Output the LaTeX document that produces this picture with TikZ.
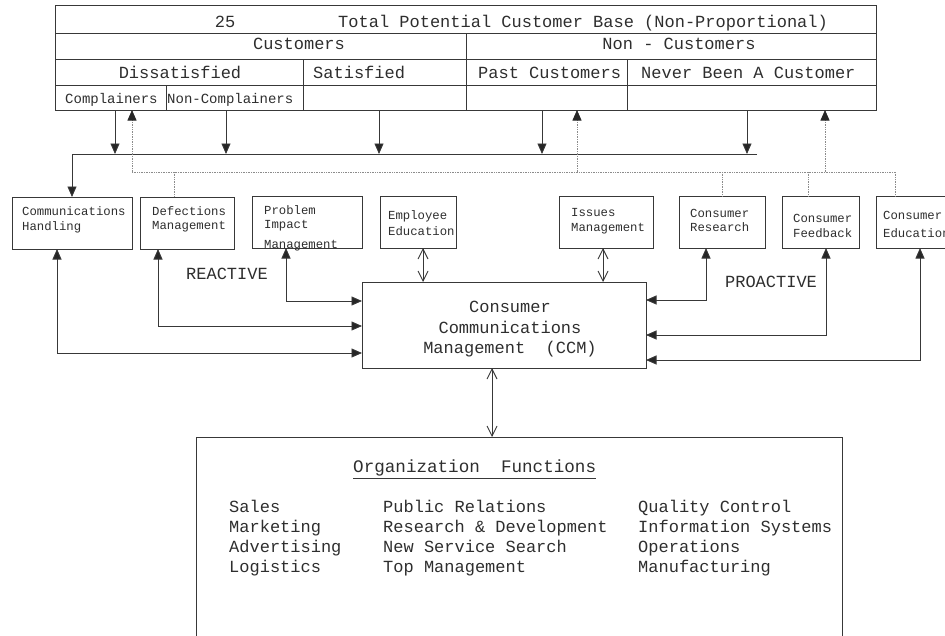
\documentclass[tikz,border=0pt]{standalone}
\usepackage{fontspec}
\newfontfamily\mono{Liberation Mono}
\usetikzlibrary{arrows.meta,calc}
\begin{document}
\begin{tikzpicture}[x=1pt,y=-1pt,
  ln/.style={draw=black!78,line width=0.9pt},
  bx/.style={ln,anchor=north west,inner sep=0pt,outer sep=0pt},
  txt/.style={inner sep=0pt,text=black!82},
  fA/.style={txt,font=\mono\fontsize{17}{20}\selectfont},
  fB/.style={txt,font=\mono\fontsize{14}{16}\selectfont},
  fC/.style={txt,font=\mono\fontsize{12.3}{14}\selectfont},
  arr/.style={ln,-{Triangle[length=10.5pt,width=9pt,fill=black!85]}},
  dbl/.style={ln,{Triangle[length=10.5pt,width=9pt,fill=black!85]}-{Triangle[length=10.5pt,width=9pt,fill=black!85]}},
  opn/.style={ln,{Straight Barb[length=10pt,width=10pt]}-{Straight Barb[length=10pt,width=10pt]}},
  dot/.style={draw=black!45,line width=0.7pt,densely dotted},
  dotarr/.style={dot,-{Triangle[length=10.5pt,width=9pt,color=black!85]}}
]
\useasboundingbox (0,0) rectangle (945,635);

% ---------- top table ----------
\node[bx,minimum width=821,minimum height=28] (t0) at (55,5) {};
\node[bx,minimum width=411,minimum height=26] (cu) at (55,33) {};
\node[bx,minimum width=410,minimum height=26] (nc) at (466,33) {};
\node[bx,minimum width=248,minimum height=26] (di) at (55,59) {};
\node[bx,minimum width=163,minimum height=26] (sa) at (303,59) {};
\node[bx,minimum width=161,minimum height=26] (pa) at (466,59) {};
\node[bx,minimum width=249,minimum height=26] (nv) at (627,59) {};
\node[bx,minimum width=111,minimum height=25] (co) at (55,85) {};
\node[bx,minimum width=137,minimum height=25] (nco) at (166,85) {};
\node[bx,minimum width=163,minimum height=25] (sab) at (303,85) {};
\node[bx,minimum width=161,minimum height=25] (pab) at (466,85) {};
\node[bx,minimum width=249,minimum height=25] (nvb) at (627,85) {};

\node[fA,anchor=base] (t25) at (225,27) {25};
\node[fA,anchor=base west] (ttl) at (338,27) {Total Potential Customer Base (Non-Proportional)};
\node[fA,anchor=base] (tcu) at (299,49) {Customers};
\node[fA,anchor=base] (tnc) at (679,49) {Non - Customers};
\node[fA,anchor=base] (tdi) at (180,78) {Dissatisfied};
\node[fA,anchor=base west] (tsa) at (313,78) {Satisfied};
\node[fA,anchor=base west] (tpa) at (478,78) {Past Customers};
\node[fA,anchor=base west] (tnv) at (641,78) {Never Been A Customer};
\node[fB,anchor=base west] (tco) at (65,103) {Complainers};
\node[fB,anchor=base west] (tnco) at (167,103) {Non-Complainers};

% ---------- function boxes ----------
\node[bx,minimum width=120,minimum height=52] (ch) at (12,197) {};
\node[bx,minimum width=94,minimum height=52] (dm) at (140,197) {};
\node[bx,minimum width=110,minimum height=52] (pi) at (252,196) {};
\node[bx,minimum width=76,minimum height=52] (ee) at (380,196) {};
\node[bx,minimum width=94,minimum height=52] (im) at (559,196) {};
\node[bx,minimum width=86,minimum height=52] (cr) at (679,196) {};
\node[bx,minimum width=77,minimum height=52] (cf) at (782,196) {};
\node[bx,minimum width=90,minimum height=52] (ce) at (876,196) {};

\node[fC,anchor=base west] (ch1) at (22,215) {Communications};
\node[fC,anchor=base west] (ch2) at (22,230) {Handling};
\node[fC,anchor=base west] (dm1) at (152,215) {Defections};
\node[fC,anchor=base west] (dm2) at (152,229) {Management};
\node[fC,anchor=base west] (pi1) at (264,214) {Problem};
\node[fC,anchor=base west] (pi2) at (264,228) {Impact};
\node[fC,anchor=base west] (pi3) at (264,248) {Management};
\node[fC,anchor=base west] (ee1) at (388,219) {Employee};
\node[fC,anchor=base west] (ee2) at (388,235) {Education};
\node[fC,anchor=base west] (im1) at (571,216) {Issues};
\node[fC,anchor=base west] (im2) at (571,231) {Management};
\node[fC,anchor=base west] (cr1) at (690,217) {Consumer};
\node[fC,anchor=base west] (cr2) at (690,231) {Research};
\node[fC,anchor=base west] (cf1) at (793,222) {Consumer};
\node[fC,anchor=base west] (cf2) at (793,237) {Feedback};
\node[fC,anchor=base west] (ce1) at (883,219) {Consumer};
\node[fC,anchor=base west] (ce2) at (883,237) {Education};

% ---------- CCM ----------
\node[bx,minimum width=284,minimum height=86] (ccm) at (362,282) {};
\node[fA,anchor=base] (ccm1) at (510,312) {Consumer};
\node[fA,anchor=base] (ccm2) at (510,333) {Communications};
\node[fA,anchor=base] (ccm3) at (510,353) {Management\ \ (CCM)};

\node[fA,anchor=base] (rea) at (227,279) {REACTIVE};
\node[fA,anchor=base] (pro) at (771,287) {PROACTIVE};

% ---------- organization box ----------
\node[bx,minimum width=646,minimum height=260] (org) at (196,437) {};
\node[txt,font=\mono\fontsize{17.6}{20}\selectfont,anchor=base west] (oft) at (353,472) {Organization\ \ Functions};
\draw[ln,line width=0.8pt] ([yshift=-3pt]oft.south west) -- ([yshift=-3pt]oft.south east);

\node[fA,anchor=base west] (s1) at (229,512) {Sales};
\node[fA,anchor=base west] (s2) at (229,532) {Marketing};
\node[fA,anchor=base west] (s3) at (229,552) {Advertising};
\node[fA,anchor=base west] (s4) at (229,572) {Logistics};
\node[fA,anchor=base west] (p1) at (383,512) {Public Relations};
\node[fA,anchor=base west] (p2) at (383,532) {Research \& Development};
\node[fA,anchor=base west] (p3) at (383,552) {New Service Search};
\node[fA,anchor=base west] (p4) at (383,572) {Top Management};
\node[fA,anchor=base west] (q1) at (638,512) {Quality Control};
\node[fA,anchor=base west] (q2) at (638,532) {Information Systems};
\node[fA,anchor=base west] (q3) at (638,552) {Operations};
\node[fA,anchor=base west] (q4) at (638,572) {Manufacturing};

% ---------- bus (solid) ----------
\coordinate (busL) at (72,154);
\coordinate (busR) at (757,154);
\coordinate (a1) at (115,154);
\coordinate (a2) at (226,154);
\coordinate (a3) at (379,154);
\coordinate (a4) at (542,154);
\coordinate (a5) at (747,154);
\draw[arr] (busR) -- (busL) -- (ch.north);
\draw[arr] (co.south -| a1) -- (a1);
\draw[arr] (nco.south -| a2) -- (a2);
\draw[arr] (sab.south -| a3) -- (a3);
\draw[arr] (pab.south -| a4) -- (a4);
\draw[arr] (nvb.south -| a5) -- (a5);

% ---------- dotted feedback line ----------
\coordinate (dL) at (132,172);
\coordinate (dR) at (895,172);
\coordinate (d1) at (174,172);
\coordinate (u2) at (577,172);
\coordinate (u3) at (825,172);
\coordinate (d3) at (808,172);
\draw[dot] (dL) -- (dR);
\draw[dotarr] (dL) -- (co.south -| dL);
\draw[dotarr] (u2) -- (pab.south -| u2);
\draw[dotarr] (u3) -- (nvb.south -| u3);
\draw[dot] (d1) -- (dm.north -| d1);
\draw[dot] (cr.north |- dR) -- (cr.north);
\draw[dot] (d3) -- (cf.north -| d3);
\draw[dot] (dR) -- (ce.north -| dR);

% ---------- connectors to CCM ----------
\coordinate (c1) at (57,353);
\coordinate (c2) at (158,326);
\coordinate (c3) at (286,301);
\coordinate (r1) at (706,300);
\coordinate (r2) at (826,335);
\coordinate (r3) at (920,360);
\coordinate (o1) at (423,265);
\coordinate (o2) at (603,265);
\coordinate (o3) at (492,400);
\draw[dbl] (ch.south -| c1) -- (c1) -- (ccm.west |- c1);
\draw[dbl] (dm.south -| c2) -- (c2) -- (ccm.west |- c2);
\draw[dbl] (pi.south -| c3) -- (c3) -- (ccm.west |- c3);
\draw[dbl] (cr.south -| r1) -- (r1) -- (ccm.east |- r1);
\draw[dbl] (cf.south -| r2) -- (r2) -- (ccm.east |- r2);
\draw[dbl] (ce.south -| r3) -- (r3) -- (ccm.east |- r3);
\draw[opn] (ee.south -| o1) -- (ccm.north -| o1);
\draw[opn] (im.south -| o2) -- (ccm.north -| o2);
\draw[opn] (ccm.south -| o3) -- (org.north -| o3);
\end{tikzpicture}
\end{document}
